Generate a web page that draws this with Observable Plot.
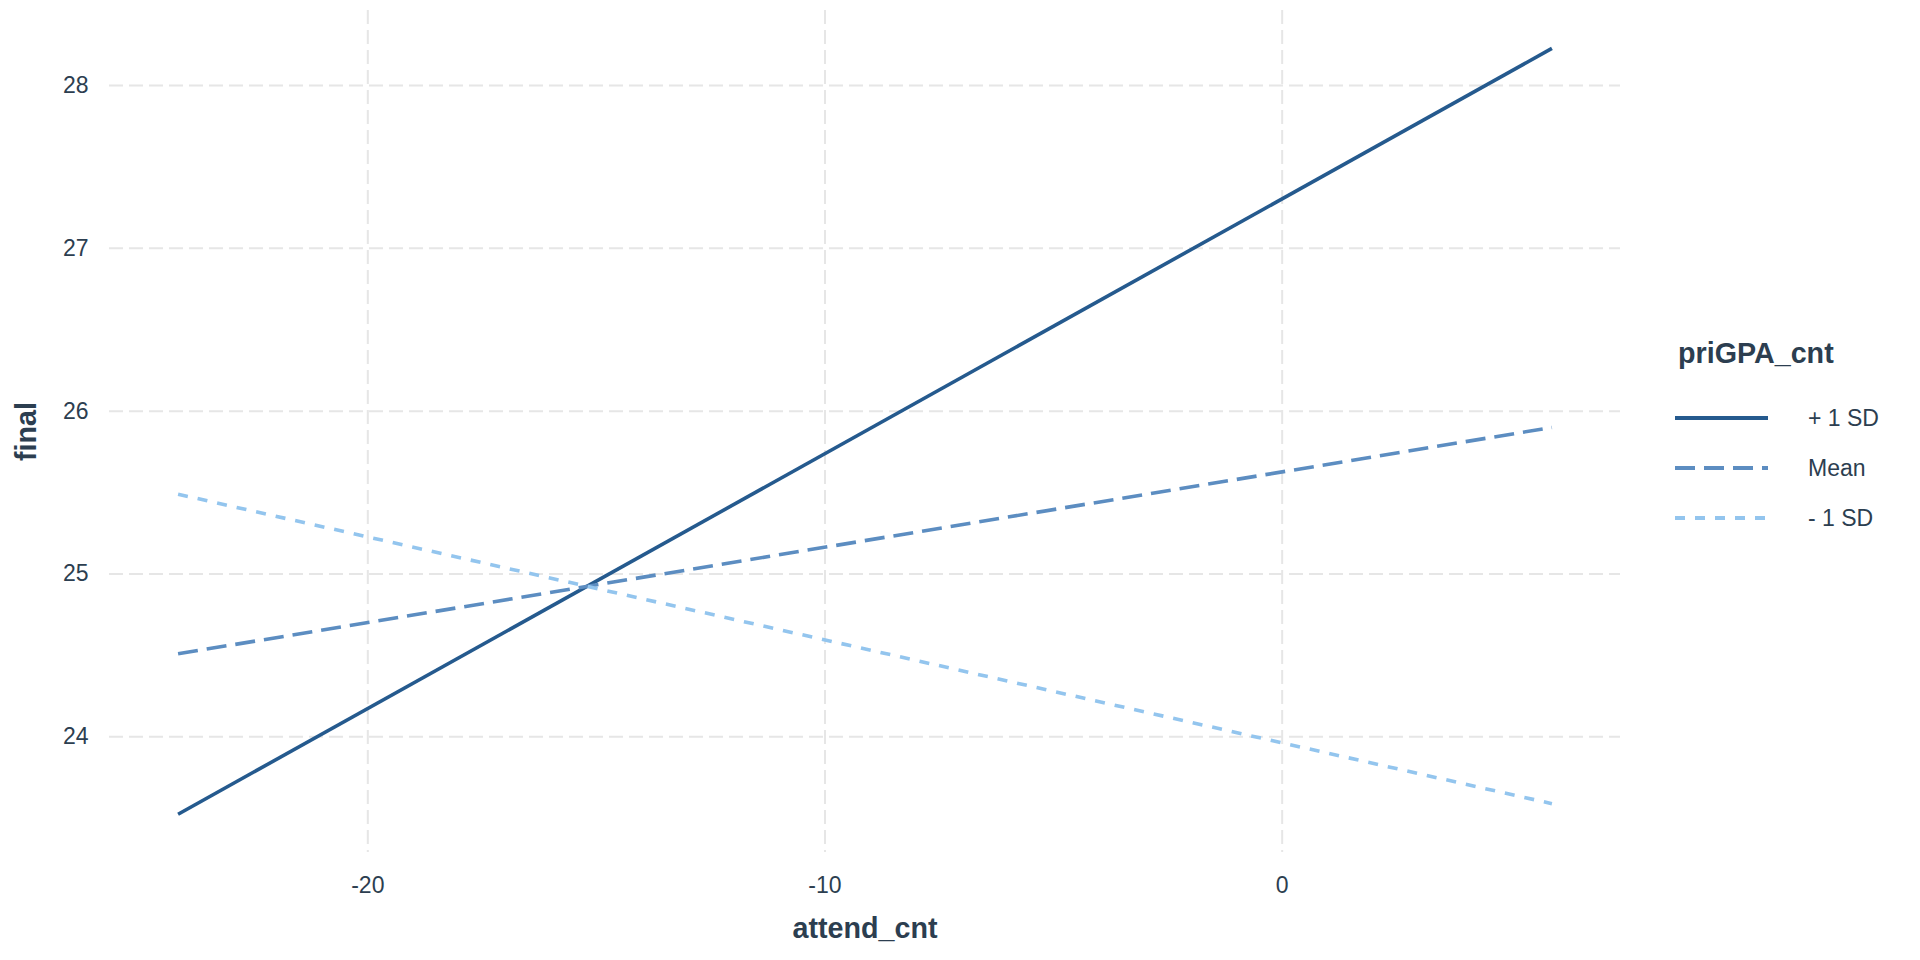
<!DOCTYPE html>
<html>
<head>
<meta charset="utf-8">
<script src="https://cdn.jsdelivr.net/npm/d3@7"></script>
<script src="https://cdn.jsdelivr.net/npm/@observablehq/plot@0.6"></script>
<style>
  html, body { margin: 0; padding: 0; background: #fff; }
  #wrap { position: relative; width: 1920px; height: 960px; font-family: "Liberation Sans", Arial, sans-serif; }
  #legend { position: absolute; left: 0; top: 0; pointer-events: none; }
</style>
</head>
<body>
<div id="wrap"></div>
<script>
// ---- data ----
const series = ["+ 1 SD", "Mean", "- 1 SD"];
const attendRange = [-24.15, 5.9];          // attend_cnt at the two ends of each line
const finalAtStart = [23.525, 24.51, 25.49]; // predicted final at attend_cnt = -24.15
const finalAtEnd = [28.227, 25.90, 23.59];   // predicted final at attend_cnt = 5.9
const xTicks = [-20, -10, 0];
const yTicks = [24, 25, 26, 27, 28];
const legendTitle = "priGPA_cnt";
const xTitle = "attend_cnt";
const yTitle = "final";

// ---- styles ----
const colors = ["#255a8e", "#5c8dc1", "#93c5ee"];
const dashes = ["none", "20,9", "10,10"];
const textColor = "#2c3e50";
const gridColor = "#e6e6e6";

const rows = [];
series.forEach((s, i) => {
  rows.push({series: s, attend: attendRange[0], final: finalAtStart[i]});
  rows.push({series: s, attend: attendRange[1], final: finalAtEnd[i]});
});

const fmt = d => String(d);

const chart = Plot.plot({
  width: 1920,
  height: 960,
  marginLeft: 109,
  marginRight: 300,
  marginTop: 10,
  marginBottom: 108,
  style: {fontFamily: "Liberation Sans, Arial, sans-serif", color: textColor, background: "#fff"},
  x: {domain: [-25.65, 7.4], ticks: xTicks},
  y: {domain: [23.29, 28.46], ticks: yTicks},
  marks: [
    Plot.gridX(xTicks, {stroke: gridColor, strokeOpacity: 1, strokeWidth: 2, strokeDasharray: "14,6"}),
    Plot.gridY(yTicks, {stroke: gridColor, strokeOpacity: 1, strokeWidth: 2, strokeDasharray: "14,6"}),
    Plot.axisX(xTicks, {tickSize: 0, tickPadding: 24, fontSize: 23, label: null, fill: textColor, tickFormat: fmt}),
    Plot.axisY(yTicks, {tickSize: 0, tickPadding: 21, fontSize: 23, label: null, fill: textColor, tickFormat: fmt}),
    ...series.map((s, i) => Plot.line(rows.filter(d => d.series === s), {
      x: "attend", y: "final",
      stroke: colors[i], strokeWidth: 3.6, strokeDasharray: dashes[i], strokeLinecap: "butt"
    })),
    Plot.text([xTitle], {frameAnchor: "bottom", dy: 76, lineAnchor: "middle", textAnchor: "middle", fontSize: 28.7, fontWeight: "bold", fill: textColor}),
    Plot.text([yTitle], {frameAnchor: "left", dx: -83, rotate: -90, lineAnchor: "middle", textAnchor: "middle", fontSize: 28.7, fontWeight: "bold", fill: textColor})
  ]
});
document.getElementById("wrap").appendChild(chart);

// ---- legend ----
const svg = d3.select("#wrap").append("svg")
  .attr("id", "legend").attr("width", 1920).attr("height", 960);
svg.append("text").text(legendTitle)
  .attr("x", 1678).attr("y", 363)
  .attr("font-size", 28.7).attr("font-weight", "bold")
  .attr("font-family", "Liberation Sans, Arial, sans-serif").attr("fill", textColor);
series.forEach((s, i) => {
  const y = 418 + i * 50;
  svg.append("line").attr("x1", 1675).attr("x2", 1768).attr("y1", y).attr("y2", y)
    .attr("stroke", colors[i]).attr("stroke-width", 4).attr("stroke-dasharray", dashes[i]);
  svg.append("text").text(s).attr("x", 1808).attr("y", y).attr("dy", "0.36em")
    .attr("font-size", 23).attr("font-family", "Liberation Sans, Arial, sans-serif").attr("fill", textColor);
});
</script>
</body>
</html>
